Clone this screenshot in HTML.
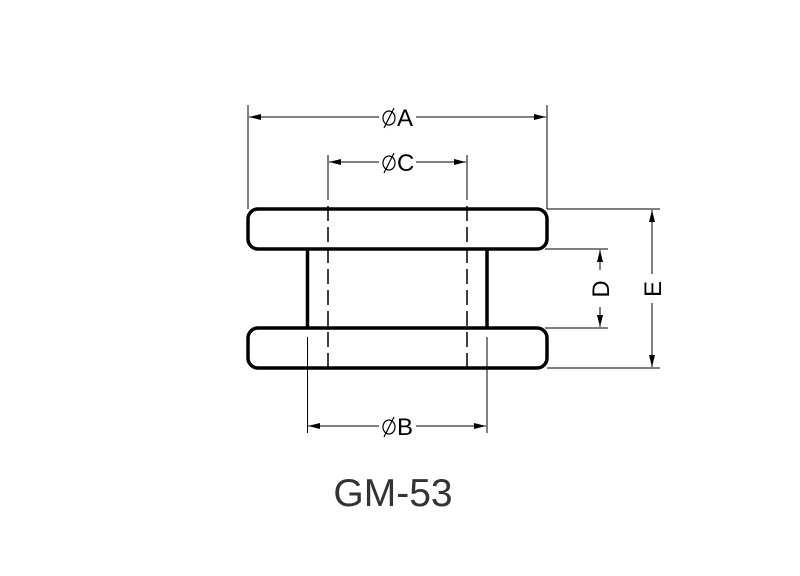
<!DOCTYPE html>
<html><head><style>html,body{margin:0;padding:0;background:#fff}svg{display:block}</style></head>
<body>
<svg width="800" height="576" viewBox="0 0 800 576" xmlns="http://www.w3.org/2000/svg">
<defs>
<marker id="ar" viewBox="0 0 12 6" refX="12" refY="3" markerWidth="12" markerHeight="6" orient="auto" markerUnits="userSpaceOnUse">
<path d="M0,0 L12,3 L0,6 z" fill="#000"/></marker>
<g id="dia" fill="none" stroke="#000" stroke-width="1.2">
<ellipse cx="0" cy="0" rx="6" ry="7"/>
<line x1="-5" y1="10" x2="5" y2="-10"/>
</g>
</defs>
<g fill="none" stroke="#000">
<rect x="248" y="209" width="299" height="40" rx="10" stroke-width="3.5"/>
<rect x="248" y="328" width="299" height="40" rx="10" stroke-width="3.5"/>
<line x1="307.5" y1="249" x2="307.5" y2="328" stroke-width="3.5"/>
<line x1="487" y1="249" x2="487" y2="328" stroke-width="3.5"/>
<line x1="328" y1="155" x2="328" y2="200" stroke-width="1"/>
<line x1="467" y1="155" x2="467" y2="200" stroke-width="1"/>
<line x1="328" y1="206" x2="328" y2="368" stroke-width="1.5" stroke-dasharray="15,6"/>
<line x1="467" y1="206" x2="467" y2="368" stroke-width="1.5" stroke-dasharray="15,6"/>
<line x1="307.5" y1="337" x2="307.5" y2="433" stroke-width="1"/>
<line x1="487" y1="337" x2="487" y2="433" stroke-width="1"/>
<line x1="248" y1="105" x2="248" y2="209" stroke-width="1"/>
<line x1="547" y1="105" x2="547" y2="209" stroke-width="1"/>
<line x1="547" y1="209" x2="660" y2="209" stroke-width="1"/>
<line x1="547" y1="368" x2="660" y2="368" stroke-width="1"/>
<line x1="545" y1="249" x2="608" y2="249" stroke-width="1"/>
<line x1="545" y1="328" x2="608" y2="328" stroke-width="1"/>
<line x1="379" y1="117" x2="249" y2="117" stroke-width="1" marker-end="url(#ar)"/>
<line x1="416" y1="117" x2="546" y2="117" stroke-width="1" marker-end="url(#ar)"/>
<line x1="379" y1="162" x2="329" y2="162" stroke-width="1" marker-end="url(#ar)"/>
<line x1="416" y1="162" x2="466" y2="162" stroke-width="1" marker-end="url(#ar)"/>
<line x1="379" y1="426" x2="308" y2="426" stroke-width="1" marker-end="url(#ar)"/>
<line x1="416" y1="426" x2="486" y2="426" stroke-width="1" marker-end="url(#ar)"/>
<line x1="600" y1="270" x2="600" y2="250" stroke-width="1" marker-end="url(#ar)"/>
<line x1="600" y1="307" x2="600" y2="327" stroke-width="1" marker-end="url(#ar)"/>
<line x1="652" y1="274" x2="652" y2="210" stroke-width="1" marker-end="url(#ar)"/>
<line x1="652" y1="303" x2="652" y2="367" stroke-width="1" marker-end="url(#ar)"/>
</g>
<use href="#dia" x="389" y="118"/>
<use href="#dia" x="389" y="163"/>
<use href="#dia" x="389" y="427"/>
<g font-family="Liberation Sans, sans-serif" font-size="24" fill="#000">
<text x="397" y="126">A</text>
<text x="397" y="171">C</text>
<text x="397" y="435">B</text>
<text transform="translate(609,289) rotate(-90)" text-anchor="middle">D</text>
<text transform="translate(661,289) rotate(-90)" text-anchor="middle">E</text>
</g>
<text x="393" y="506" font-family="Liberation Sans, sans-serif" font-size="39" fill="#333" text-anchor="middle">GM-53</text>
</svg>
</body></html>
